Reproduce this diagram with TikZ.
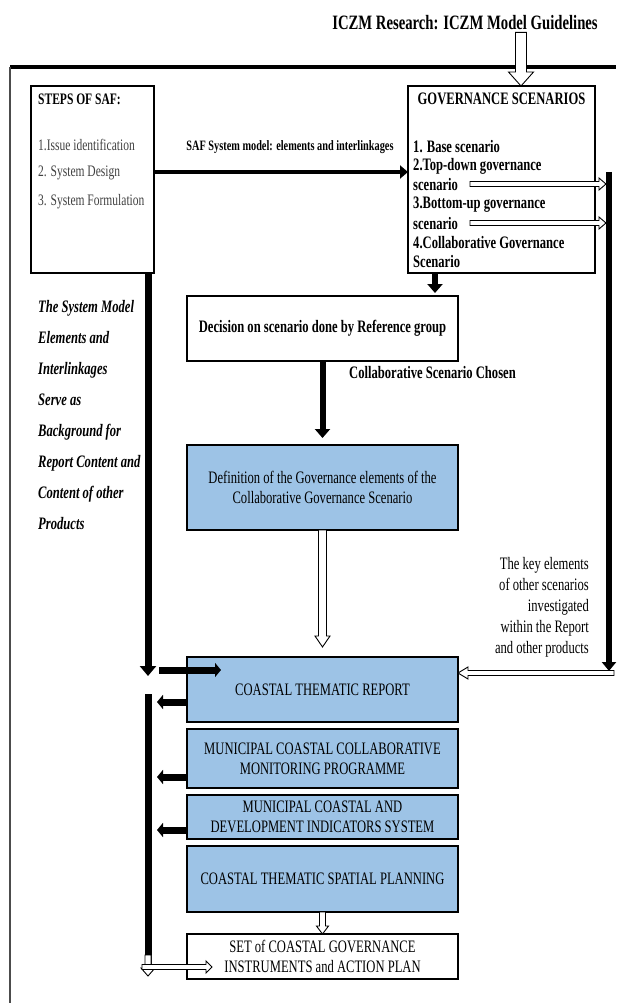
\documentclass[tikz,border=0pt]{standalone}
\usepackage{fontspec}
\setmainfont{Liberation Serif}[FakeStretch=0.72]
\usepackage{xcolor}
\usetikzlibrary{
    arrows.meta,
    positioning,
    calc
}

\definecolor{boxblue}{RGB}{157,195,230}
\newcommand{\bodyfont}{\fontsize{17.5}{20}\selectfont}
\newcommand{\smallfont}{\fontsize{16}{19}\selectfont}
\newcommand{\linkfont}{\fontsize{14.3}{17}\selectfont}
\newcommand{\titlefont}{\fontsize{20.4}{24}\selectfont\bfseries}

\begin{document}
\begin{tikzpicture}[
        x=1pt, y=-1pt,
        box/.style={
            draw,
            line width=2.4pt,
            inner sep=0pt,
            outer sep=0pt,
            align=center,
            minimum width=271pt,
            font=\bodyfont
        },
        bluebox/.style={
            box,
            fill=boxblue
        },
        txt/.style={
            inner sep=0pt,
            align=left,
            font=\bodyfont
        },
        line/.style={
            line width=6pt,
            -{Triangle[length=9pt, width=15pt]}
        },
        hollow/.style n args={3}{
            draw,
            fill=white,
            line width=0.9pt,
            to path={
                ($(\tikztostart)!#1!90:(\tikztotarget)$)
                -- ($(\tikztotarget)!#3!(\tikztostart)!#1!90:(\tikztotarget)$)
                -- ($(\tikztotarget)!#3!(\tikztostart)!#2!90:(\tikztotarget)$)
                -- (\tikztotarget)
                -- ($(\tikztotarget)!#3!(\tikztostart)!#2!-90:(\tikztotarget)$)
                -- ($(\tikztotarget)!#3!(\tikztostart)!#1!-90:(\tikztotarget)$)
                -- ($(\tikztostart)!#1!-90:(\tikztotarget)$) -- cycle
            }
        }
    ]

    \useasboundingbox (0,0) rectangle (616,1003);

    % outer frame
    \draw[line width=3.5pt] (10,67) -- (616,67);
    \draw[line width=1.2pt, black!70] (10,67) -- (10,1003);

    \node[txt, inner sep=2pt, font=\titlefont] (title) at (465,23) {ICZM Research: ICZM Model Guidelines};

    % top boxes
    \node[box, minimum width=123pt, minimum height=187pt] (saf) at (92.5,179.5) {};
    \node[box, minimum width=187pt, minimum height=187pt] (gov) at (501.5,179.5) {};

    \node[txt, anchor=west, font=\smallfont\bfseries] (saftitle) at (38,99) {STEPS OF SAF:};
    \node[txt, anchor=west, font=\smallfont, text=black!75] (step1) at (38,145) {1.Issue identification};
    \node[txt, anchor=west, font=\smallfont, text=black!75] (step2) at (38,173) {2. System Design};
    \node[txt, anchor=west, font=\smallfont, text=black!75] (step3) at (38,202) {3. System Formulation};

    \node[txt, font=\bodyfont\bfseries] (govtitle) at (501.5,99) {GOVERNANCE SCENARIOS};
    \node[txt, anchor=west, font=\bodyfont\bfseries] (sc1) at (413,147) {1. Base scenario};
    \node[txt, anchor=west, font=\bodyfont\bfseries] (sc2) at (413,166) {2.Top-down governance};
    \node[txt, anchor=west, font=\bodyfont\bfseries] (sc2b) at (413,185) {scenario};
    \node[txt, anchor=west, font=\bodyfont\bfseries] (sc3) at (413,205) {3.Bottom-up governance};
    \node[txt, anchor=west, font=\bodyfont\bfseries] (sc3b) at (413,224) {scenario};
    \node[txt, anchor=west, font=\bodyfont\bfseries] (sc4) at (413,243) {4.Collaborative Governance};
    \node[txt, anchor=west, font=\bodyfont\bfseries] (sc4b) at (413,262) {Scenario};

    \node[txt, font=\linkfont\bfseries] (saflink) at (290,147) {SAF System model: elements and interlinkages};

    % middle column
    \node[box, minimum height=65pt, font=\bodyfont\bfseries] (decision) at (322.5,328.5) {Decision on scenario done by Reference group};
    \node[txt, anchor=west, font=\bodyfont\bfseries] (chosen) at (349,373) {Collaborative Scenario Chosen};
    \node[bluebox, minimum height=85pt] (definition) at (322.5,487.5) {Definition of the Governance elements of the\\Collaborative Governance Scenario};

    \node[bluebox, minimum height=65pt] (report) at (322.5,689.5) {COASTAL THEMATIC REPORT};
    \node[bluebox, minimum height=59pt] (monitor) at (322.5,758.5) {MUNICIPAL COASTAL COLLABORATIVE\\MONITORING PROGRAMME};
    \node[bluebox, minimum height=44pt] (indicators) at (322.5,817) {MUNICIPAL COASTAL AND\\DEVELOPMENT INDICATORS SYSTEM};
    \node[bluebox, minimum height=66pt] (spatial) at (322.5,879) {COASTAL THEMATIC SPATIAL PLANNING};
    \node[box, minimum height=45pt] (instruments) at (322.5,956.5) {SET of COASTAL GOVERNANCE\\INSTRUMENTS and ACTION PLAN};

    % side notes
    \node[txt, anchor=north west, font=\fontsize{17.5}{31}\selectfont\bfseries\itshape] (background) at (38,300)
        {The System Model\\Elements and\\Interlinkages\\Serve as\\Background for\\Report Content and\\Content of other\\Products};
    \node[txt, anchor=north east, align=right, font=\fontsize{17.5}{21}\selectfont] (keyelements) at (589,557)
        {The key elements\\of other scenarios\\investigated\\within the Report\\and other products};

    % free ends
    \coordinate (link) at (0,172);
    \coordinate (drop) at (435,0);
    \coordinate (inflow) at (521,0);
    \coordinate (leftbar) at (148,0);
    \coordinate (leftend) at (148,676);
    \coordinate (feedstart) at (159,670);
    \coordinate (feedend) at (221,670);
    \coordinate (bartop) at (148,694);
    \coordinate (barend) at (148,965);
    \coordinate (rpout) at (157,702);
    \coordinate (mnout) at (157,777);
    \coordinate (inout) at (157,830);
    \coordinate (downstart) at (148,955);
    \coordinate (downend) at (148,976);
    \coordinate (hstart) at (142,967);
    \coordinate (hend) at (212,967);
    \coordinate (righttop) at (609,172);
    \coordinate (rightend) at (609,671);
    \coordinate (rightin) at (606,0);
    \coordinate (td) at (470,184);
    \coordinate (bu) at (470,223);
    \coordinate (keyin) at (614,673);

    % black connectors
    \draw[line, line width=4pt, -{Triangle[length=8pt, width=13pt]}] (saf.east |- link) -- (gov.west |- link);
    \draw[line, shorten >=3pt] (gov.south -| drop) -- (decision.north -| drop);
    \draw[line, shorten >=7pt] (decision.south) -- (definition.north);
    \draw[line, line width=7pt, -{Triangle[length=10pt, width=16pt]}] (saf.south -| leftbar) -- (leftend);
    \draw[line, line width=7pt, -{Triangle[length=6pt, width=14pt]}] (feedstart) -- (feedend);
    \draw[line width=7pt] (bartop) -- (barend);
    \draw[line, line width=7pt, -{Triangle[length=6pt, width=14pt]}] (report.west |- rpout) -- (rpout);
    \draw[line, line width=7pt, -{Triangle[length=6pt, width=14pt]}] (monitor.west |- mnout) -- (mnout);
    \draw[line, line width=7pt, -{Triangle[length=6pt, width=14pt]}] (indicators.west |- inout) -- (inout);
    \draw[line, -{Triangle[length=9pt, width=14pt]}] (righttop) -- (rightend);

    % hollow connectors
    \draw[hollow={5.5pt}{12.5pt}{14pt}] (title.south -| inflow) to (gov.north -| inflow);
    \draw[hollow={2.5pt}{6pt}{7pt}] (td) to (td -| rightin);
    \draw[hollow={2.5pt}{6pt}{7pt}] (bu) to (bu -| rightin);
    \draw[hollow={4pt}{7.5pt}{11pt}] (definition.south) to ([yshift=10pt]report.north);
    \draw[hollow={2.5pt}{6pt}{10pt}] (keyin) to (report.east |- keyin);
    \draw[hollow={3pt}{6pt}{8pt}] (spatial.south) to (instruments.north);
    \draw[hollow={3pt}{7pt}{8pt}] (downstart) to (downend);
    \draw[hollow={2.5pt}{6pt}{6pt}] (hstart) to (hend);

\end{tikzpicture}
\end{document}
